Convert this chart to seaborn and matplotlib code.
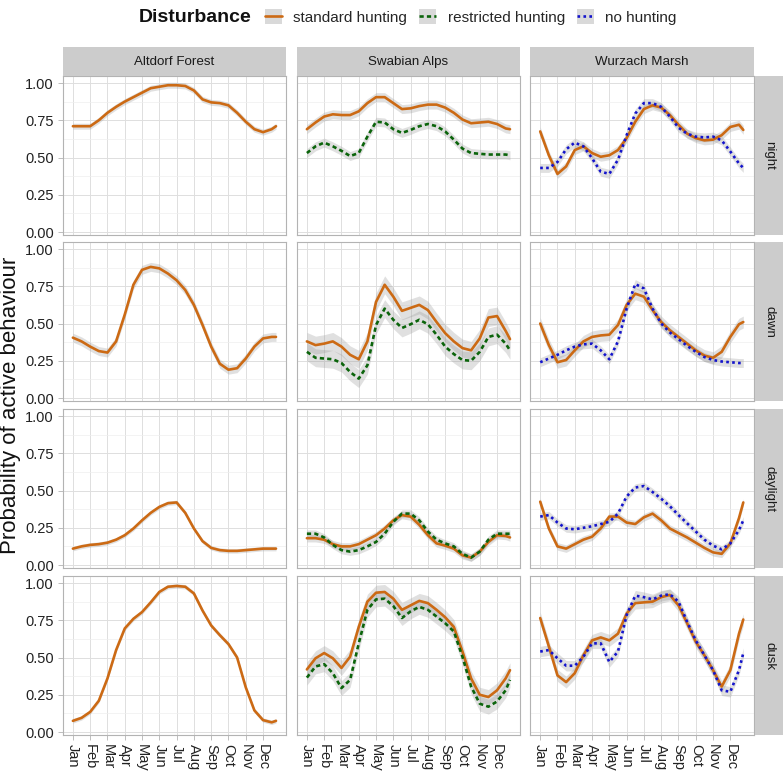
import pandas as pd
import matplotlib
matplotlib.use("Agg")
import matplotlib.pyplot as plt
import seaborn as sns
from matplotlib.lines import Line2D
from matplotlib.patches import Patch

# month positions the curves were read at (half-month steps, last point mid December)
months = [1, 1.5, 2, 2.5, 3, 3.5, 4, 4.5, 5, 5.5, 6, 6.5, 7, 7.5, 8, 8.5,
          9, 9.5, 10, 10.5, 11, 11.5, 12, 12.5, 12.75]
month_labels = ['Jan', 'Feb', 'Mar', 'Apr', 'May', 'Jun', 'Jul', 'Aug',
                'Sep', 'Oct', 'Nov', 'Dec']
sites = ['Altdorf Forest', 'Swabian Alps', 'Wurzach Marsh']
periods = ['night', 'dawn', 'daylight', 'dusk']
disturbances = ['standard hunting', 'restricted hunting', 'no hunting']

# Altdorf Forest (standard hunting only)
af_night_std = [0.71, 0.71, 0.71, 0.75, 0.80, 0.84, 0.875, 0.905, 0.935, 0.965, 0.975, 0.985, 0.985,
                0.98, 0.95, 0.89, 0.87, 0.865, 0.85, 0.80, 0.74, 0.69, 0.67, 0.69, 0.71]
af_dawn_std = [0.405, 0.38, 0.345, 0.315, 0.305, 0.38, 0.56, 0.76, 0.86, 0.88, 0.87, 0.835, 0.79,
               0.725, 0.625, 0.49, 0.345, 0.23, 0.19, 0.20, 0.265, 0.345, 0.40, 0.41, 0.41]
af_daylight_std = [0.11, 0.125, 0.135, 0.14, 0.15, 0.17, 0.20, 0.245, 0.30, 0.35, 0.39, 0.415, 0.42,
                   0.35, 0.245, 0.16, 0.115, 0.10, 0.095, 0.095, 0.10, 0.105, 0.11, 0.11, 0.11]
af_dusk_std = [0.075, 0.095, 0.135, 0.21, 0.36, 0.55, 0.695, 0.76, 0.805, 0.87, 0.94, 0.975, 0.98,
               0.975, 0.93, 0.815, 0.715, 0.65, 0.59, 0.50, 0.30, 0.145, 0.08, 0.065, 0.075]

# Swabian Alps
sa_night_std = [0.69, 0.735, 0.775, 0.79, 0.785, 0.785, 0.81, 0.865, 0.905, 0.905, 0.865, 0.825, 0.83,
                0.845, 0.855, 0.855, 0.835, 0.80, 0.755, 0.73, 0.735, 0.74, 0.725, 0.695, 0.69]
sa_night_res = [0.53, 0.575, 0.60, 0.575, 0.545, 0.51, 0.53, 0.64, 0.74, 0.735, 0.69, 0.665, 0.685,
                0.71, 0.725, 0.71, 0.675, 0.62, 0.56, 0.53, 0.525, 0.52, 0.52, 0.52, 0.515]
sa_dawn_std = [0.38, 0.355, 0.365, 0.38, 0.345, 0.29, 0.26, 0.38, 0.645, 0.76, 0.68, 0.585, 0.605,
               0.625, 0.59, 0.51, 0.435, 0.38, 0.335, 0.32, 0.40, 0.54, 0.55, 0.45, 0.395]
sa_dawn_res = [0.31, 0.27, 0.265, 0.26, 0.235, 0.175, 0.13, 0.22, 0.49, 0.60, 0.525, 0.47, 0.495,
               0.525, 0.495, 0.425, 0.345, 0.295, 0.255, 0.25, 0.31, 0.41, 0.425, 0.365, 0.32]
sa_daylight_std = [0.18, 0.18, 0.17, 0.14, 0.125, 0.125, 0.14, 0.17, 0.20, 0.245, 0.30, 0.335, 0.325,
                   0.27, 0.20, 0.145, 0.13, 0.11, 0.065, 0.05, 0.09, 0.155, 0.20, 0.195, 0.185]
sa_daylight_res = [0.21, 0.21, 0.185, 0.135, 0.10, 0.09, 0.10, 0.125, 0.155, 0.21, 0.29, 0.345, 0.345,
                   0.30, 0.225, 0.17, 0.145, 0.125, 0.075, 0.05, 0.09, 0.17, 0.21, 0.21, 0.21]
sa_dusk_std = [0.42, 0.495, 0.53, 0.495, 0.43, 0.505, 0.705, 0.875, 0.935, 0.94, 0.895, 0.82, 0.85,
               0.88, 0.865, 0.82, 0.77, 0.705, 0.54, 0.36, 0.25, 0.235, 0.28, 0.36, 0.415]
sa_dusk_res = [0.365, 0.44, 0.455, 0.395, 0.295, 0.35, 0.595, 0.82, 0.89, 0.895, 0.845, 0.765, 0.81,
               0.84, 0.82, 0.775, 0.73, 0.675, 0.505, 0.305, 0.19, 0.17, 0.205, 0.28, 0.35]

# Wurzach Marsh
wm_night_std = [0.675, 0.515, 0.39, 0.44, 0.55, 0.575, 0.53, 0.505, 0.515, 0.55, 0.63, 0.74, 0.825,
                0.85, 0.835, 0.785, 0.72, 0.66, 0.63, 0.615, 0.62, 0.65, 0.705, 0.72, 0.685]
wm_night_no = [0.43, 0.43, 0.47, 0.555, 0.60, 0.575, 0.495, 0.405, 0.39, 0.485, 0.65, 0.795, 0.865,
               0.865, 0.84, 0.775, 0.70, 0.66, 0.64, 0.635, 0.64, 0.615, 0.54, 0.46, 0.43]
wm_dawn_std = [0.50, 0.355, 0.24, 0.255, 0.32, 0.38, 0.41, 0.42, 0.425, 0.49, 0.625, 0.70, 0.68,
               0.59, 0.51, 0.455, 0.41, 0.365, 0.32, 0.285, 0.27, 0.31, 0.41, 0.495, 0.51]
wm_dawn_no = [0.24, 0.265, 0.29, 0.32, 0.345, 0.36, 0.365, 0.32, 0.26, 0.38, 0.60, 0.765, 0.735,
              0.60, 0.50, 0.44, 0.395, 0.35, 0.31, 0.275, 0.255, 0.245, 0.24, 0.235, 0.235]
wm_daylight_std = [0.425, 0.245, 0.125, 0.11, 0.14, 0.17, 0.19, 0.245, 0.325, 0.325, 0.285, 0.275, 0.32,
                   0.345, 0.30, 0.245, 0.215, 0.185, 0.15, 0.115, 0.085, 0.075, 0.145, 0.315, 0.42]
wm_daylight_no = [0.325, 0.335, 0.285, 0.245, 0.24, 0.25, 0.26, 0.275, 0.29, 0.345, 0.46, 0.52, 0.53,
                  0.49, 0.445, 0.395, 0.335, 0.28, 0.225, 0.17, 0.13, 0.105, 0.145, 0.235, 0.30]
wm_dusk_std = [0.765, 0.575, 0.38, 0.335, 0.395, 0.515, 0.615, 0.635, 0.615, 0.66, 0.795, 0.865, 0.87,
               0.875, 0.905, 0.92, 0.85, 0.73, 0.605, 0.515, 0.415, 0.305, 0.415, 0.66, 0.755]
wm_dusk_no = [0.54, 0.55, 0.495, 0.445, 0.445, 0.505, 0.595, 0.595, 0.47, 0.54, 0.785, 0.915, 0.905,
              0.89, 0.915, 0.925, 0.875, 0.74, 0.615, 0.515, 0.415, 0.28, 0.27, 0.415, 0.53]

# half width of the confidence band, per period (night, dawn, daylight, dusk)
af_band_std = [0.02, 0.03, 0.015, 0.015]
sa_band_std = [0.03, 0.06, 0.025, 0.05]
sa_band_res = [0.03, 0.06, 0.025, 0.05]
wm_band_std = [0.03, 0.04, 0.025, 0.04]
wm_band_no = [0.03, 0.03, 0.025, 0.035]

series = {
    ('Altdorf Forest', 'standard hunting'): ([af_night_std, af_dawn_std, af_daylight_std, af_dusk_std], af_band_std),
    ('Swabian Alps', 'standard hunting'): ([sa_night_std, sa_dawn_std, sa_daylight_std, sa_dusk_std], sa_band_std),
    ('Swabian Alps', 'restricted hunting'): ([sa_night_res, sa_dawn_res, sa_daylight_res, sa_dusk_res], sa_band_res),
    ('Wurzach Marsh', 'standard hunting'): ([wm_night_std, wm_dawn_std, wm_daylight_std, wm_dusk_std], wm_band_std),
    ('Wurzach Marsh', 'no hunting'): ([wm_night_no, wm_dawn_no, wm_daylight_no, wm_dusk_no], wm_band_no),
}

rows = []
for (site, dist), (vals, band) in series.items():
    for p, period in enumerate(periods):
        for m, v in zip(months, vals[p]):
            rows.append({'site': site, 'period': period, 'disturbance': dist,
                         'month': m, 'prob': v, 'lo': v - band[p], 'hi': v + band[p]})
df = pd.DataFrame(rows)

palette = {'standard hunting': '#CC6A14', 'restricted hunting': '#0B640B', 'no hunting': '#1414CC'}
dashes = {'standard hunting': '', 'restricted hunting': (1.6, 1.2), 'no hunting': (1, 1.25)}

sns.set_theme(style='white')
plt.rcParams['font.family'] = ['Liberation Sans', 'DejaVu Sans']
plt.rcParams['lines.solid_joinstyle'] = 'round'
plt.rcParams['lines.dash_joinstyle'] = 'round'

W, H = 784, 772
fig = plt.figure(figsize=(W / 100, H / 100), dpi=100)


def px_axes(l, t, w, h):
    return fig.add_axes([l / W, 1 - (t + h) / H, w / W, h / H])


col_left = [62.7, 296.7, 530]
panel_w = 223.5
row_top = [76.3, 242.3, 409.3, 576.3]
panel_h = 158.7
border = '#B3B3B3'

for r, period in enumerate(periods):
    for c, site in enumerate(sites):
        ax = px_axes(col_left[c], row_top[r], panel_w, panel_h)
        sub = df[(df.site == site) & (df.period == period)]
        present = [d for d in disturbances if d in sub.disturbance.unique()]

        for d in present:
            s = sub[sub.disturbance == d]
            ax.fill_between(s.month, s.lo, s.hi, color='#999999', alpha=0.3, lw=0, zorder=1)
        sns.lineplot(data=sub, x='month', y='prob', hue='disturbance', style='disturbance',
                     hue_order=present, style_order=present, palette=palette, dashes=dashes,
                     linewidth=1.9, errorbar=None, legend=False, ax=ax, zorder=3)

        ax.set_xlim(0.41, 13.34)
        ax.set_ylim(-0.02, 1.045)
        ax.set_xticks(range(1, 13))
        ax.set_xticklabels(month_labels, rotation=-90, va='top', ha='center')
        ax.set_yticks([0, 0.25, 0.5, 0.75, 1.0])
        ax.set_yticklabels(['0.00', '0.25', '0.50', '0.75', '1.00'])
        ax.set_yticks([0.125, 0.375, 0.625, 0.875], minor=True)
        ax.grid(which='major', color='#DEDEDE', lw=0.7)
        ax.grid(which='minor', axis='y', color='#EEEEEE', lw=0.5)
        ax.set_axisbelow(True)
        ax.set_xlabel('')
        ax.set_ylabel('')
        for sp in ax.spines.values():
            sp.set_color(border)
            sp.set_linewidth(0.8)
        ax.tick_params(which='major', length=3.3, width=0.6, color=border, pad=3,
                       labelsize=10.5, labelcolor='#222222',
                       left=(c == 0), labelleft=(c == 0),
                       bottom=(r == 3), labelbottom=(r == 3))
        ax.tick_params(which='minor', left=False, bottom=False)

        if r == 0:
            sax = px_axes(col_left[c], 47, panel_w, 29.3)
            sax.set_facecolor('#CCCCCC')
            sax.set_xticks([])
            sax.set_yticks([])
            for sp in sax.spines.values():
                sp.set_visible(False)
            sax.text(0.5, 0.5, site, ha='center', va='center', fontsize=9.6,
                     color='#1A1A1A', transform=sax.transAxes)
        if c == 2:
            rax = px_axes(755, row_top[r], 28.5, panel_h)
            rax.set_facecolor('#CCCCCC')
            rax.set_xticks([])
            rax.set_yticks([])
            for sp in rax.spines.values():
                sp.set_visible(False)
            rax.text(0.5, 0.5, period, ha='center', va='center', fontsize=9.6, rotation=-90,
                     color='#1A1A1A', transform=rax.transAxes)

fig.text(11 / W, 1 - 405 / H, 'Probability of active behaviour', rotation=90,
         ha='center', va='center', fontsize=16, color='#111111')

# legend on top
fig.text(139 / W, 1 - 17 / H, 'Disturbance', ha='left', va='center',
         fontsize=14, fontweight='bold', color='#111111')
handles = []
for d in disturbances:
    line = Line2D([], [], color=palette[d], lw=1.9)
    if dashes[d]:
        line.set_dashes(dashes[d])
    handles.append((Patch(facecolor='#D9D9D9', edgecolor='none'), line))
fig.legend(handles, disturbances, loc='center left', bbox_to_anchor=(265 / W, 1 - 17 / H),
           ncol=3, frameon=False, fontsize=11, handlelength=1.1, handleheight=1.1,
           handletextpad=0.75, columnspacing=0.8, borderpad=0, borderaxespad=0)

fig.savefig('out.png', dpi=100)
